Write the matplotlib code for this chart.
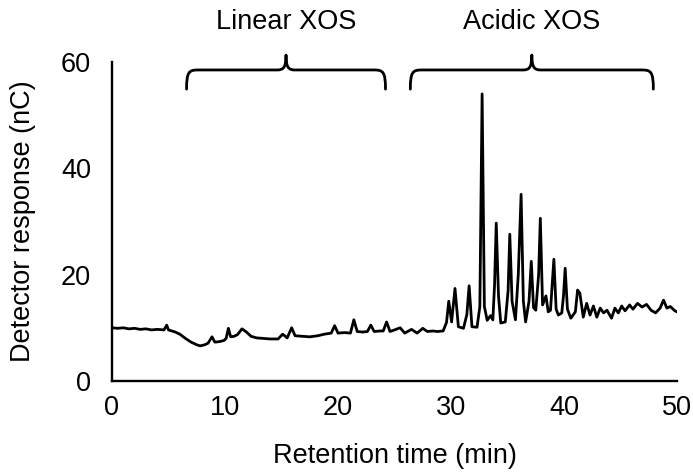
import matplotlib
matplotlib.use("Agg")
import matplotlib.pyplot as plt
from matplotlib.path import Path
from matplotlib.patches import PathPatch

plt.rcParams['font.family'] = ['Liberation Sans', 'DejaVu Sans']

# Chromatogram trace (retention time in min, detector response in nC)
retention_time = [
    0.0, 0.5, 1.0, 1.5, 2.0, 2.5, 3.0, 3.5, 4.0, 4.6, 4.84, 5.0, 5.6, 6.0, 6.5,
    7.0, 7.5, 7.8, 8.2, 8.5, 8.85, 9.1, 9.5, 9.9, 10.1, 10.3, 10.5, 10.8, 11.1,
    11.5, 11.9, 12.3, 12.8, 13.4, 14.0, 14.7, 15.1, 15.5, 15.9, 16.2, 16.8,
    17.5, 18.2, 18.8, 19.4, 19.7, 20.0, 20.6, 21.1, 21.4, 21.7, 22.2, 22.6,
    22.9, 23.2, 23.7, 24.0, 24.3, 24.6, 25.0, 25.5, 25.9, 26.5, 27.0, 27.5,
    27.9, 28.4, 28.8, 29.3, 29.6, 29.8, 30.05, 30.35, 30.65, 31.1, 31.4, 31.6,
    31.85, 32.3, 32.55, 32.75, 32.95, 33.2, 33.5, 33.7, 33.85, 34.0, 34.2,
    34.4, 34.8, 35.05, 35.2, 35.4, 35.7, 35.95, 36.2, 36.4, 36.6, 36.9, 37.1,
    37.3, 37.5, 37.75, 37.9, 38.1, 38.4, 38.6, 38.8, 38.95, 39.1, 39.3, 39.5,
    39.8, 39.95, 40.1, 40.3, 40.6, 41.0, 41.2, 41.4, 41.7, 42.0, 42.3, 42.6,
    42.9, 43.2, 43.5, 43.8, 44.2, 44.5, 44.8, 45.1, 45.4, 45.8, 46.1, 46.5,
    46.9, 47.3, 47.7, 48.1, 48.5, 48.8, 49.1, 49.4, 49.8, 50.0,
]
response = [
    10.0, 9.9, 10.0, 9.8, 9.9, 9.7, 9.8, 9.6, 9.7, 9.6, 10.5, 9.6, 9.2, 8.8, 8.0,
    7.3, 6.8, 6.6, 6.8, 7.1, 8.3, 7.3, 7.4, 7.6, 8.0, 9.9, 8.3, 8.4, 8.7,
    9.8, 9.2, 8.4, 8.1, 8.0, 7.9, 7.9, 8.8, 8.1, 10.0, 8.5, 8.4,
    8.3, 8.5, 8.8, 9.0, 10.4, 9.0, 9.1, 9.0, 11.5, 9.3, 9.2, 9.3,
    10.5, 9.3, 9.4, 9.4, 11.1, 9.3, 9.6, 10.0, 9.0, 9.7, 9.0, 9.9,
    9.3, 9.4, 9.3, 9.4, 11.0, 15.0, 11.1, 17.4, 10.2, 9.9, 12.5, 17.9,
    10.2, 10.1, 14.0, 54.0, 14.0, 11.4, 12.3, 11.5, 18.0, 29.7, 16.0,
    10.9, 11.1, 17.0, 27.6, 15.0, 11.5, 20.0, 35.1, 15.0, 11.1, 15.0, 22.5,
    13.8, 13.3, 20.0, 30.6, 14.3, 16.0, 13.0, 13.3, 18.0, 22.9, 13.5, 12.4,
    12.8, 16.0, 21.2, 13.5, 11.8, 13.0, 17.1, 16.5, 12.0, 14.6, 12.4, 14.1,
    12.0, 13.7, 12.8, 13.3, 11.8, 13.7, 12.8, 14.1, 13.2, 14.3, 13.5, 14.6,
    13.9, 14.4, 13.3, 12.8, 13.7, 15.2, 13.7, 14.0, 13.2, 13.0,
]

# Bracketed groups
group_names = ["Linear XOS", "Acidic XOS"]
group_start = [6.6, 26.4]
group_end = [24.2, 47.9]

x_ticks = [0, 10, 20, 30, 40, 50]
y_ticks = [0, 20, 40, 60]

FS = 19.5

fig = plt.figure(figsize=(6.93, 4.75), dpi=100)
ax = fig.add_axes([0.1616, 0.198, 0.8154, 0.6715])

ax.plot(retention_time, response, color='black', lw=2.0, solid_joinstyle='round')

ax.set_xlim(0, 50)
ax.set_ylim(0, 60)
ax.set_xticks(x_ticks)
ax.set_yticks(y_ticks)
ax.tick_params(length=0, labelsize=FS)
ax.tick_params(axis='y', pad=15)
ax.tick_params(axis='x', pad=10)
for s in ['top', 'right']:
    ax.spines[s].set_visible(False)
for s in ['left', 'bottom']:
    ax.spines[s].set_linewidth(1.7)

ax.set_xlabel('Retention time (min)', fontsize=FS, labelpad=16)
ax.set_ylabel('Detector response (nC)', fontsize=FS, labelpad=18)

# Curly brackets
y_end, y_bar, y_tip = 54.9, 58.5, 61.3
for name, x0, x1 in zip(group_names, group_start, group_end):
    xc = (x0 + x1) / 2
    rx, ry = 1.0, 2.0
    cx = 0.8
    verts = [
        (x0, y_end), (x0, y_bar - ry * 0.2), (x0 + rx * 0.2, y_bar), (x0 + rx, y_bar),
        (xc - cx, y_bar),
        (xc - cx * 0.3, y_bar), (xc, y_bar + 0.4), (xc, y_tip),
        (xc, y_bar + 0.4), (xc + cx * 0.3, y_bar), (xc + cx, y_bar),
        (x1 - rx, y_bar),
        (x1 - rx * 0.2, y_bar), (x1, y_bar - ry * 0.2), (x1, y_end),
    ]
    codes = [Path.MOVETO, Path.CURVE4, Path.CURVE4, Path.CURVE4,
             Path.LINETO,
             Path.CURVE4, Path.CURVE4, Path.CURVE4,
             Path.CURVE4, Path.CURVE4, Path.CURVE4,
             Path.LINETO,
             Path.CURVE4, Path.CURVE4, Path.CURVE4]
    patch = PathPatch(Path(verts, codes), fill=False, lw=2.0, color='black',
                      clip_on=False, capstyle='round', joinstyle='round')
    ax.add_patch(patch)
    ax.text(xc, 67.5, name, ha='center', va='center', fontsize=FS, clip_on=False)

fig.savefig('out.png', dpi=100)
